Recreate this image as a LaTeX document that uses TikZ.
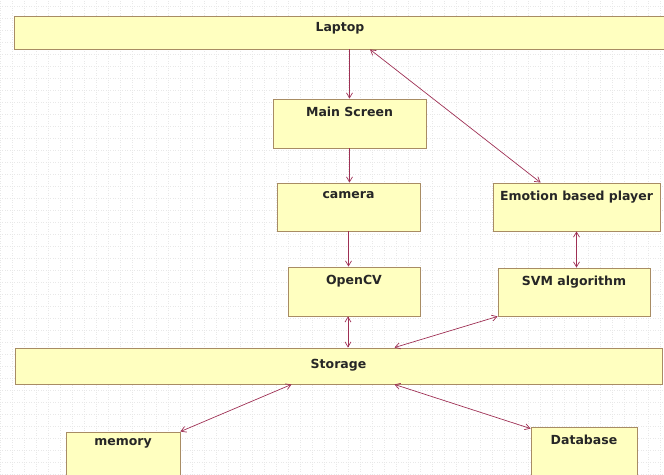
\documentclass[tikz,border=0pt]{standalone}
\usepackage{fontspec}
\setmainfont{DejaVu Sans}
\usetikzlibrary{arrows.meta}
\definecolor{boxfill}{RGB}{255,255,192}
\definecolor{boxline}{RGB}{168,140,100}
\definecolor{linkcol}{RGB}{158,48,84}
\tikzset{
  block/.style={draw=boxline, fill=boxfill, line width=0.9pt, rectangle, inner sep=0pt},
  lbl/.style={anchor=north, inner sep=8.5pt, font=\fontsize{12.5}{14}\selectfont\bfseries, text=black!85},
  flow/.style={draw=linkcol, line width=0.7pt, -{Straight Barb[length=5pt,width=6pt]}},
  both/.style={draw=linkcol, line width=0.7pt, {Straight Barb[length=5pt,width=6pt]}-{Straight Barb[length=5pt,width=6pt]}}
}
\begin{document}
\begin{tikzpicture}[x=1pt,y=1pt]
    \useasboundingbox (0,0) rectangle (664,474);
    \clip (0,0) rectangle (664,474);
    % background grid
    \draw[step=12pt, gray!18, dotted] (0,0) grid (664,474);

    % Top and bottom bars
    \node[block, minimum width=652, minimum height=33, label={[lbl, inner sep=7pt]north:Laptop}] (laptop) at (340,441.5) {};
    \node[block, minimum width=647, minimum height=36, label={[lbl, inner sep=11pt]north:Storage}] (storage) at (338.5,108) {};

    % Left column
    \node[block, minimum width=153, minimum height=49, label={[lbl]north:Main Screen}] (main) at (349.5,350.5) {};
    \node[block, minimum width=143, minimum height=48, label={[lbl]north:camera}] (camera) at (348.5,267) {};
    \node[block, minimum width=132, minimum height=49, label={[lbl]north:OpenCV}] (opencv) at (354,182.5) {};

    % Right column
    \node[block, minimum width=167, minimum height=48, label={[lbl]north:Emotion based player}] (player) at (576.5,267) {};
    \node[block, minimum width=152, minimum height=48, label={[lbl]north:SVM algorithm}] (svm) at (574,182) {};

    % Below storage
    \node[block, minimum width=114, minimum height=58, label={[lbl, inner sep=7pt]north:memory}] (memory) at (123,13) {};
    \node[block, minimum width=106, minimum height=63, label={[lbl]north:Database}] (database) at (584,15.5) {};

    % Links
    \draw[flow] (main.north |- laptop.south) -- (main.north);
    \draw[both] ([xshift=30pt]laptop.south) -- ([xshift=-36pt]player.north);
    \draw[flow] (main.south) -- (main.south |- camera.north);
    \draw[flow] (camera.south) -- (camera.south |- opencv.north);
    \draw[both] ([xshift=-6pt]opencv.south) -- ([xshift=-6pt]opencv.south |- storage.north);
    \draw[both] (player.south) -- (player.south |- svm.north);
    \draw[both] ([xshift=56pt]storage.north) -- (svm.south west);
    \draw[both] ([xshift=-47pt]storage.south) -- (memory.north east);
    \draw[both] ([xshift=56pt]storage.south) -- ([yshift=-2pt]database.north west);
\end{tikzpicture}
\end{document}
